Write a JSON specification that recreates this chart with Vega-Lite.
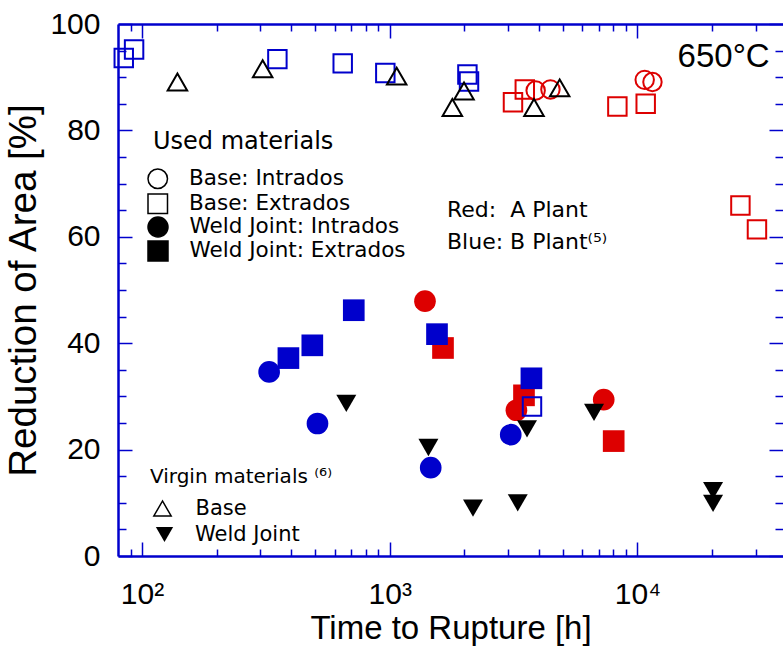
{
  "$schema": "https://vega.github.io/schema/vega-lite/v6.json",
  "width": 665,
  "height": 532,
  "autosize": {"type": "none"},
  "padding": {"left": 118, "top": 24, "right": 0, "bottom": 92},
  "background": "white",
  "config": {"view": {"stroke": null}, "font": "Liberation Sans"},
  "datasets": {
    "used": [
      {"plant": "A Plant", "material": "Base: Extrados", "t": 3145, "ra": 85.3},
      {"plant": "A Plant", "material": "Base: Extrados", "t": 3510, "ra": 87.7},
      {"plant": "A Plant", "material": "Base: Extrados", "t": 8300, "ra": 84.5},
      {"plant": "A Plant", "material": "Base: Extrados", "t": 10800, "ra": 85.0},
      {"plant": "A Plant", "material": "Base: Extrados", "t": 26050, "ra": 65.9},
      {"plant": "A Plant", "material": "Base: Extrados", "t": 30380, "ra": 61.4},
      {"plant": "A Plant", "material": "Base: Intrados", "t": 3883, "ra": 87.5},
      {"plant": "A Plant", "material": "Base: Intrados", "t": 4455, "ra": 87.7},
      {"plant": "A Plant", "material": "Base: Intrados", "t": 10700, "ra": 89.5},
      {"plant": "A Plant", "material": "Base: Intrados", "t": 11500, "ra": 89.1},
      {"plant": "A Plant", "material": "Weld Joint: Extrados", "t": 1641, "ra": 39.1},
      {"plant": "A Plant", "material": "Weld Joint: Extrados", "t": 3484, "ra": 30.2},
      {"plant": "A Plant", "material": "Weld Joint: Extrados", "t": 8020, "ra": 21.6},
      {"plant": "A Plant", "material": "Weld Joint: Intrados", "t": 1388, "ra": 47.9},
      {"plant": "A Plant", "material": "Weld Joint: Intrados", "t": 3247, "ra": 27.4},
      {"plant": "A Plant", "material": "Weld Joint: Intrados", "t": 7310, "ra": 29.4},
      {"plant": "B Plant", "material": "Base: Extrados", "t": 84.4, "ra": 93.6},
      {"plant": "B Plant", "material": "Base: Extrados", "t": 92.9, "ra": 95.2},
      {"plant": "B Plant", "material": "Base: Extrados", "t": 352, "ra": 93.4},
      {"plant": "B Plant", "material": "Base: Extrados", "t": 646, "ra": 92.6},
      {"plant": "B Plant", "material": "Base: Extrados", "t": 960, "ra": 90.8},
      {"plant": "B Plant", "material": "Base: Extrados", "t": 2059, "ra": 90.5},
      {"plant": "B Plant", "material": "Base: Extrados", "t": 2090, "ra": 89.2},
      {"plant": "B Plant", "material": "Base: Extrados", "t": 3753, "ra": 28.1},
      {"plant": "B Plant", "material": "Weld Joint: Intrados", "t": 326, "ra": 34.6},
      {"plant": "B Plant", "material": "Weld Joint: Intrados", "t": 511, "ra": 24.9},
      {"plant": "B Plant", "material": "Weld Joint: Intrados", "t": 1464, "ra": 16.6},
      {"plant": "B Plant", "material": "Weld Joint: Intrados", "t": 3080, "ra": 22.8},
      {"plant": "B Plant", "material": "Weld Joint: Extrados", "t": 390, "ra": 37.2},
      {"plant": "B Plant", "material": "Weld Joint: Extrados", "t": 487, "ra": 39.6},
      {"plant": "B Plant", "material": "Weld Joint: Extrados", "t": 716, "ra": 46.2},
      {"plant": "B Plant", "material": "Weld Joint: Extrados", "t": 1552, "ra": 41.7},
      {"plant": "B Plant", "material": "Weld Joint: Extrados", "t": 3733, "ra": 33.4}
    ],
    "virgin": [
      {"virgin": "Base", "t": 139, "ra": 89.1},
      {"virgin": "Base", "t": 307, "ra": 91.6},
      {"virgin": "Base", "t": 1067, "ra": 90.2},
      {"virgin": "Base", "t": 1790, "ra": 84.3},
      {"virgin": "Base", "t": 1995, "ra": 87.4},
      {"virgin": "Base", "t": 3824, "ra": 84.3},
      {"virgin": "Base", "t": 4855, "ra": 88.0},
      {"virgin": "Weld Joint", "t": 668, "ra": 28.7},
      {"virgin": "Weld Joint", "t": 1433, "ra": 20.4},
      {"virgin": "Weld Joint", "t": 2169, "ra": 9.0},
      {"virgin": "Weld Joint", "t": 3287, "ra": 10.0},
      {"virgin": "Weld Joint", "t": 3583, "ra": 23.9},
      {"virgin": "Weld Joint", "t": 6680, "ra": 27.0},
      {"virgin": "Weld Joint", "t": 20200, "ra": 12.3},
      {"virgin": "Weld Joint", "t": 20200, "ra": 9.9}
    ]
  },
  "resolve": {
    "scale": {"shape": "independent"},
    "axis": {"x": "independent", "y": "independent"},
    "legend": {"shape": "independent"}
  },
  "layer": [
    {
      "data": {"name": "used"},
      "resolve": {"scale": {"shape": "independent"}, "legend": {"shape": "independent"}},
      "encoding": {
        "x": {
          "field": "t", "type": "quantitative",
          "scale": {"type": "log", "domain": [80, 38700], "nice": false},
          "axis": {
            "orient": "bottom",
            "values": [90,100,200,300,400,500,600,700,800,900,1000,2000,3000,4000,5000,6000,7000,8000,9000,10000,20000,30000],
            "labelExpr": "datum.value == 100 ? '10²' : datum.value == 1000 ? '10³' : datum.value == 10000 ? '10⁴' : ''",
            "labelOverlap": false, "labelFlush": false, "labelBound": false,
            "tickSize": {"condition": {"test": "datum.value == 100 || datum.value == 1000 || datum.value == 10000", "value": -14}, "value": -7},
            "labelPadding": 37,
            "tickColor": "#0000cc", "tickWidth": 1.5,
            "domainColor": "#0000cc", "domainWidth": 2.5,
            "grid": false,
            "labelFont": "Liberation Sans", "labelFontSize": 30, "labelColor": "black",
            "title": "Time to Rupture [h]", "titleFont": "Liberation Sans", "titleFontSize": 33,
            "titleFontWeight": "normal", "titleColor": "black", "titlePadding": -4
          }
        },
        "y": {
          "field": "ra", "type": "quantitative",
          "scale": {"domain": [0, 100], "nice": false},
          "axis": {
            "orient": "left",
            "values": [0,5,10,15,20,25,30,35,40,45,50,55,60,65,70,75,80,85,90,95,100],
            "labelExpr": "datum.value % 20 == 0 ? datum.label : ''",
            "labelOverlap": false, "labelFlush": false, "labelBound": false,
            "tickSize": {"condition": {"test": "datum.value % 20 == 0", "value": -14}, "value": -8},
            "labelPadding": 32,
            "tickColor": "#0000cc", "tickWidth": 1.5,
            "domainColor": "#0000cc", "domainWidth": 2.5,
            "grid": false,
            "labelFont": "Liberation Sans", "labelFontSize": 30, "labelColor": "black",
            "title": "Reduction of Area [%]", "titleFont": "Liberation Sans", "titleFontSize": 38.5,
            "titleFontWeight": "normal", "titleColor": "black", "titlePadding": 6
          }
        },
        "color": {
          "field": "plant", "type": "nominal",
          "scale": {"domain": ["A Plant", "B Plant"], "range": ["#dd0000", "#0000cc"]},
          "legend": {
            "title": null, "orient": "none", "legendX": 307, "legendY": 175, "padding": 0,
            "symbolOpacity": 0, "symbolSize": 1, "symbolStrokeWidth": 0, "labelOffset": 0,
            "labelFont": "DejaVu Sans", "labelFontSize": 22, "labelColor": "black", "labelLimit": 400,
            "rowPadding": 10,
            "labelExpr": "datum.label == 'A Plant' ? 'Red:\u00a0\u00a0A Plant' : 'Blue: B Plant⁽⁵⁾'"
          }
        }
      },
      "layer": [
        {
          "transform": [{"filter": "indexof(datum.material, 'Weld') == 0"}],
          "mark": {"type": "point", "filled": true, "size": 470, "opacity": 1},
          "encoding": {
            "shape": {
              "field": "material", "type": "nominal",
              "scale": {"domain": ["Weld Joint: Intrados", "Weld Joint: Extrados"], "range": ["circle", "square"]},
              "legend": {
                "title": null, "orient": "none", "legendX": 35, "legendY": 192, "padding": 0,
                "labelFont": "DejaVu Sans", "labelFontSize": 21.5, "labelColor": "black", "labelLimit": 400,
                "labelOffset": 20.5, "symbolOffset": -6, "rowPadding": -3, "symbolSize": 400,
                "symbolOpacity": 1, "symbolFillColor": "black", "symbolStrokeColor": "black"
              }
            }
          }
        },
        {
          "transform": [{"filter": "indexof(datum.material, 'Base') == 0"}],
          "mark": {"type": "point", "filled": false, "strokeWidth": 2, "size": 340, "opacity": 1},
          "encoding": {
            "shape": {
              "field": "material", "type": "nominal",
              "scale": {"domain": ["Base: Intrados", "Base: Extrados"], "range": ["circle", "square"]},
              "legend": {
                "title": "Used materials", "orient": "none", "legendX": 35, "legendY": 106, "padding": 0,
                "titleFont": "DejaVu Sans", "titleFontSize": 24, "titleFontWeight": "normal", "titleColor": "black",
                "titlePadding": 14, "titleLimit": 400,
                "labelFont": "DejaVu Sans", "labelFontSize": 21.5, "labelColor": "black", "labelLimit": 400,
                "labelOffset": 20.5, "symbolOffset": -6, "rowPadding": -1, "symbolSize": 380, "symbolStrokeWidth": 1.5,
                "symbolOpacity": 1, "symbolStrokeColor": "black"
              }
            }
          }
        }
      ]
    },
    {
      "data": {"name": "virgin"},
      "resolve": {"scale": {"shape": "independent"}, "legend": {"shape": "independent"}},
      "encoding": {
        "x": {
          "field": "t", "type": "quantitative",
          "scale": {"type": "log", "domain": [80, 38700], "nice": false},
          "axis": {
            "orient": "top",
            "values": [90,100,200,300,400,500,600,700,800,900,1000,2000,3000,4000,5000,6000,7000,8000,9000,10000,20000,30000],
            "labels": false, "title": null, "grid": false,
            "tickSize": {"condition": {"test": "datum.value == 100 || datum.value == 1000 || datum.value == 10000", "value": -14}, "value": -7},
            "tickColor": "#0000cc", "tickWidth": 1.5,
            "domainColor": "#0000cc", "domainWidth": 2.5
          }
        },
        "y": {
          "field": "ra", "type": "quantitative",
          "scale": {"domain": [0, 100], "nice": false},
          "axis": {
            "orient": "right",
            "values": [0,5,10,15,20,25,30,35,40,45,50,55,60,65,70,75,80,85,90,95,100],
            "labels": false, "title": null, "grid": false,
            "tickSize": {"condition": {"test": "datum.value % 20 == 0", "value": -14}, "value": -8},
            "tickColor": "#0000cc", "tickWidth": 1.5,
            "domainOpacity": 0
          }
        }
      },
      "layer": [
        {
          "transform": [{"filter": "datum.virgin == 'Base'"}],
          "mark": {"type": "point", "filled": false, "strokeWidth": 2, "size": 380, "opacity": 1, "color": "black"},
          "encoding": {
            "shape": {
              "field": "virgin", "type": "nominal",
              "scale": {"domain": ["Base"], "range": ["triangle-up"]},
              "legend": {
                "title": "Virgin materials ⁽⁶⁾", "orient": "none", "legendX": 32, "legendY": 443, "padding": 0,
                "titleFont": "DejaVu Sans", "titleFontSize": 20, "titleFontWeight": "normal", "titleColor": "black",
                "titlePadding": 11, "titleLimit": 400,
                "labelFont": "DejaVu Sans", "labelFontSize": 21, "labelColor": "black", "labelLimit": 400,
                "labelOffset": 22.5, "symbolOffset": 2, "symbolSize": 300, "symbolStrokeWidth": 1.5,
                "symbolOpacity": 1, "symbolStrokeColor": "black"
              }
            }
          }
        },
        {
          "transform": [{"filter": "datum.virgin == 'Weld Joint'"}],
          "mark": {"type": "point", "filled": true, "size": 400, "opacity": 1, "color": "black"},
          "encoding": {
            "shape": {
              "field": "virgin", "type": "nominal",
              "scale": {"domain": ["Weld Joint"], "range": ["triangle-down"]},
              "legend": {
                "title": null, "orient": "none", "legendX": 32, "legendY": 500, "padding": 0,
                "labelFont": "DejaVu Sans", "labelFontSize": 21, "labelColor": "black", "labelLimit": 400,
                "labelOffset": 20, "symbolOffset": 4, "symbolSize": 300,
                "symbolOpacity": 1, "symbolFillColor": "black", "symbolStrokeColor": "black"
              }
            }
          }
        }
      ]
    },
    {
      "data": {"values": [{"label": "650°C"}]},
      "mark": {"type": "text", "align": "right", "baseline": "alphabetic", "font": "Liberation Sans", "fontSize": 33, "color": "black"},
      "encoding": {
        "x": {"datum": 34200, "type": "quantitative", "scale": {"type": "log", "domain": [80, 38700], "nice": false}, "axis": null},
        "y": {"datum": 92, "type": "quantitative", "scale": {"domain": [0, 100], "nice": false}, "axis": null},
        "text": {"field": "label"}
      }
    }
  ]
}
